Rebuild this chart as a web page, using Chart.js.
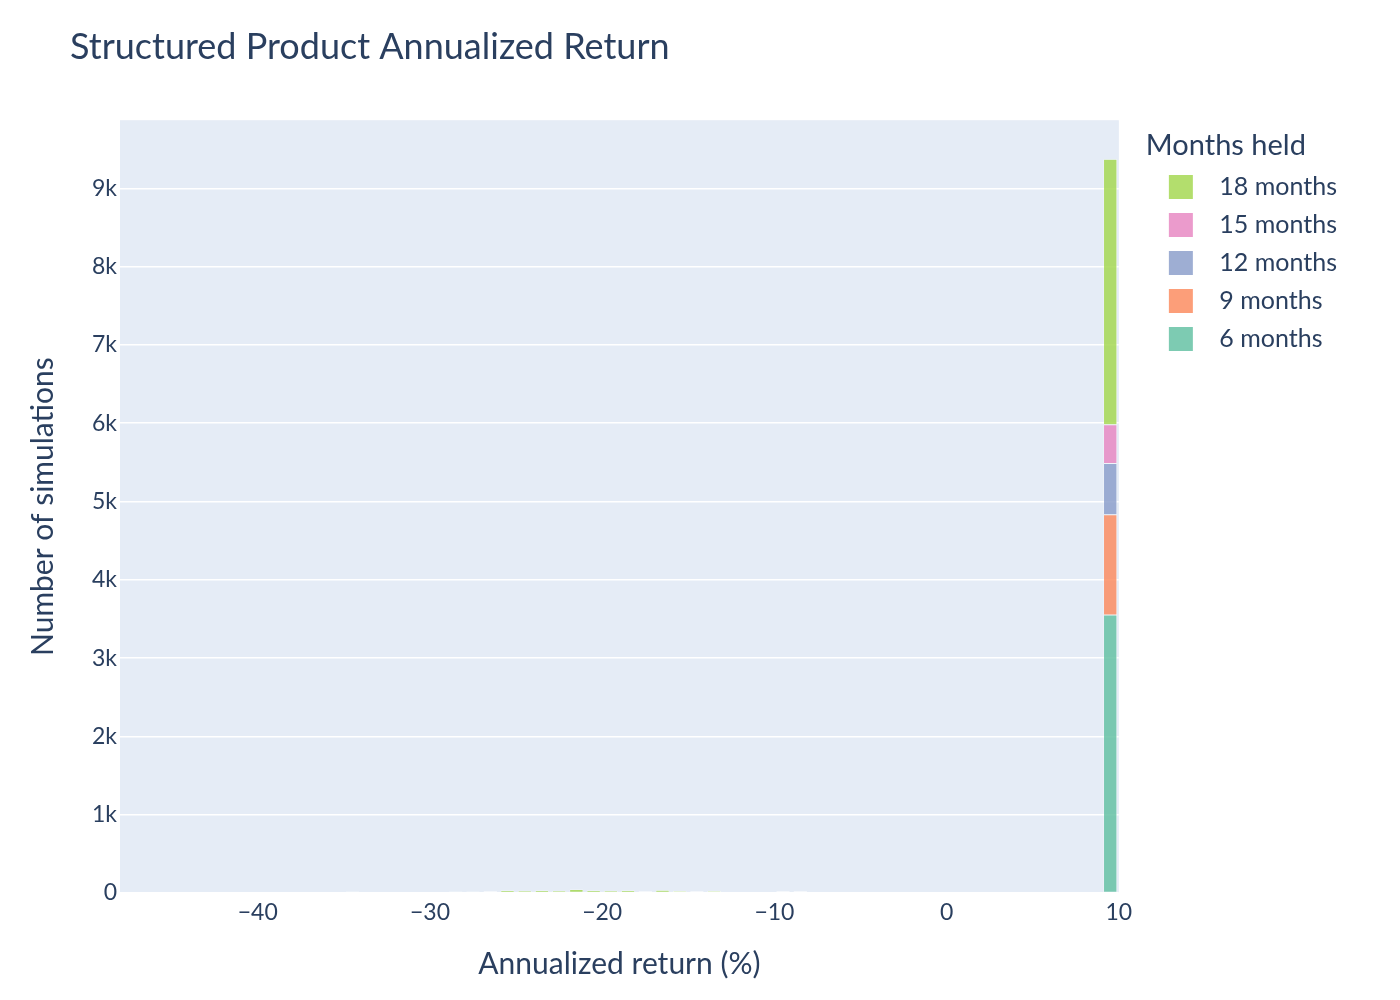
<!DOCTYPE html>
<html>
<head>
<meta charset="utf-8">
<title>Structured Product Annualized Return</title>
<script src="https://cdn.jsdelivr.net/npm/chart.js@4.4.1/dist/chart.umd.min.js"></script>
<style>
  html, body { margin: 0; padding: 0; background: #ffffff; }
</style>
</head>
<body>
<canvas id="returnChart" width="1400" height="1000"></canvas>
<script>
// {histogram bins - annualized return (%), bin centers}
const binCenters = [
  -47.5, -46.5, -45.5, -44.5, -43.5, -42.5, -41.5, -40.5, -39.5, -38.5,
  -37.5, -36.5, -35.5, -34.5, -33.5, -32.5, -31.5, -30.5, -29.5, -28.5,
  -27.5, -26.5, -25.5, -24.5, -23.5, -22.5, -21.5, -20.5, -19.5, -18.5,
  -17.5, -16.5, -15.5, -14.5, -13.5, -12.5, -11.5, -10.5, -9.5, -8.5,
  -7.5, -6.5, -5.5, -4.5, -3.5, -2.5, -1.5, -0.5, 0.5, 1.5,
  2.5, 3.5, 4.5, 5.5, 6.5, 7.5, 8.5, 9.5
];

// {number of simulations per bin, one array per holding period}
const months6 = [
  3, 2, null, 1, null, 2, null, 3, 2, 4,
  3, 2, 3, null, 2, 3, 2, 4, 3, null,
  null, null, null, null, null, null, null, null, null, null,
  null, null, null, null, null, 2, 3, 2, null, null,
  3, 2, 2, 4, 3, 2, 3, 2, 2, 3,
  2, 3, null, 2, 1, 2, null, 3550
];
const months9 = [
  null, null, null, null, null, null, null, null, null, null,
  null, null, null, null, null, null, null, null, null, null,
  null, null, null, null, null, null, null, null, null, null,
  null, null, null, null, null, null, null, null, null, null,
  null, null, null, null, null, null, null, null, null, null,
  null, null, null, null, null, null, null, 1280
];
const months12 = [
  null, null, null, null, null, null, null, null, null, null,
  null, null, null, null, null, null, null, null, null, null,
  null, null, null, null, null, null, null, null, null, null,
  null, null, null, null, null, null, null, null, null, null,
  null, null, null, null, null, null, null, null, null, null,
  null, null, null, null, null, null, null, 655
];
const months15 = [
  null, null, null, null, null, null, null, null, null, null,
  null, null, null, null, null, null, null, null, null, null,
  null, null, null, null, null, null, null, null, null, null,
  null, null, null, null, null, null, null, null, null, null,
  null, null, null, null, null, null, null, null, null, null,
  null, null, null, null, null, null, null, 495
];
const months18 = [
  null, null, null, null, null, null, null, null, null, null,
  null, null, null, 18, null, null, null, null, null, 20,
  20, 21, 32, 30, 31, 30, 45, 31, 30, 32,
  22, 36, 24, 23, 24, null, null, null, 22, 23,
  null, null, null, null, null, null, null, null, null, null,
  null, null, null, null, null, null, null, 3390
];

const seriesNames = ['6 months', '9 months', '12 months', '15 months', '18 months'];
const seriesValues = [months6, months9, months12, months15, months18];
const seriesColors = [
  'rgba(102, 194, 165, 0.85)',
  'rgba(252, 141, 98, 0.85)',
  'rgba(141, 160, 203, 0.85)',
  'rgba(231, 138, 195, 0.85)',
  'rgba(166, 216, 84, 0.85)'
];

const textColor = '#2a3f5f';
Chart.defaults.font.family = 'Lato';
Chart.defaults.color = textColor;

// 범례 색상 박스 (박스 위치를 글자와 맞추기 위해 캔버스 이미지로 그림)
function makeSwatch(color) {
  const c = document.createElement('canvas');
  c.width = 48;
  c.height = 24;
  const g = c.getContext('2d');
  g.fillStyle = color;
  g.fillRect(10, 0, 24, 24);
  return c;
}
const swatches = seriesColors.map(makeSwatch);

// plot 배경색
const plotBackground = {
  id: 'plotBackground',
  beforeDraw(chart) {
    const {ctx, chartArea} = chart;
    ctx.save();
    ctx.fillStyle = '#E5ECF6';
    ctx.fillRect(chartArea.left, chartArea.top, chartArea.right - chartArea.left, chartArea.bottom - chartArea.top);
    ctx.restore();
  }
};

const ctxReturn = document.getElementById('returnChart');
const returnChart = new Chart(ctxReturn, {
  type: 'bar',
  data: {
    datasets: seriesValues.map((vals, i) => ({
      label: seriesNames[i],
      data: vals.map((v, k) => ({x: binCenters[k], y: v})),
      backgroundColor: seriesColors[i],
      borderColor: '#ffffff',
      borderWidth: 0.5,
      borderSkipped: false,
      minBarLength: 1,
      categoryPercentage: 1,
      barPercentage: 0.78
    }))
  },
  options: {
    responsive: false,
    animation: false,
    layout: {
      padding: {left: 70, right: 53, top: 0, bottom: 0}
    },
    scales: {
      x: {
        type: 'linear',
        min: -48,
        max: 10,
        stacked: true,
        offset: false,
        grid: {display: false, drawTicks: false},
        border: {display: false},
        ticks: {
          stepSize: 10,
          includeBounds: false,
          padding: 6,
          font: {size: 23},
          callback: v => (v < 0 ? '\u2212' + Math.abs(v) : String(v))
        },
        title: {
          display: true,
          text: 'Annualized return (%)',
          font: {size: 30},
          padding: {top: 0, bottom: 18}
        },
        afterFit: s => { s.height = 107; }
      },
      y: {
        stacked: true,
        min: 0,
        max: 9870,
        grid: {color: '#ffffff', lineWidth: 1.5, drawTicks: false},
        border: {display: false},
        ticks: {
          includeBounds: false,
          padding: 3,
          font: {size: 23},
          callback: v => (v === 0 ? '0' : (v / 1000) + 'k')
        },
        title: {
          display: true,
          text: 'Number of simulations',
          font: {size: 30},
          padding: {top: -45, bottom: 0}
        },
        afterFit: s => { s.width = 50; }
      },
      gap: {
        type: 'linear',
        position: 'right',
        grid: {display: false, drawTicks: false},
        border: {display: false},
        ticks: {display: false},
        afterFit: s => { s.width = 27; }
      }
    },
    plugins: {
      title: {
        display: true,
        text: 'Structured Product Annualized Return',
        align: 'start',
        color: textColor,
        font: {size: 36, weight: 'normal'},
        padding: {top: 26, bottom: 51}
      },
      legend: {
        position: 'right',
        align: 'start',
        fullSize: false,
        reverse: true,
        title: {
          display: true,
          text: 'Months held',
          position: 'start',
          color: textColor,
          font: {size: 29, lineHeight: 1},
          padding: {top: 11, bottom: 1}
        },
        labels: {
          usePointStyle: true,
          pointStyleWidth: 48,
          padding: 13,
          color: textColor,
          font: {size: 25},
          generateLabels: chart => chart.data.datasets.map((ds, i) => ({
            text: ds.label,
            fillStyle: seriesColors[i],
            strokeStyle: 'rgba(0,0,0,0)',
            lineWidth: 0,
            pointStyle: swatches[i],
            hidden: !chart.isDatasetVisible(i),
            datasetIndex: i
          }))
        }
      },
      tooltip: {enabled: false}
    }
  },
  plugins: [plotBackground]
});
</script>
</body>
</html>
